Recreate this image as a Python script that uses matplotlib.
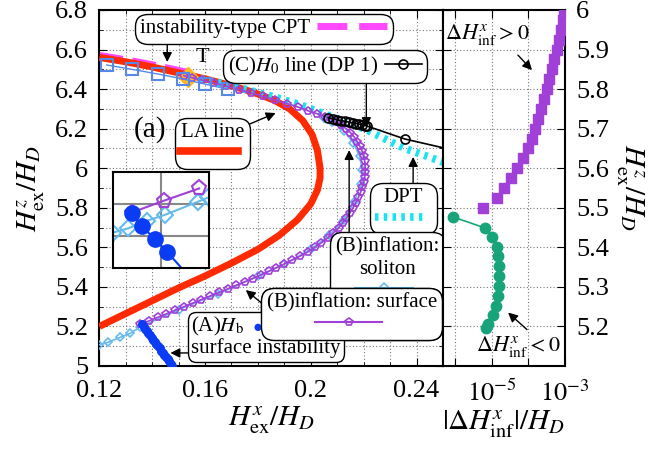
import matplotlib
matplotlib.use("Agg")
import matplotlib.pyplot as plt
from matplotlib.lines import Line2D
from matplotlib.offsetbox import AnchoredOffsetbox, HPacker, VPacker, TextArea
from matplotlib.ticker import MultipleLocator, FixedLocator, FuncFormatter

plt.rcParams["font.family"] = ["Liberation Serif", "DejaVu Serif"]
plt.rcParams["mathtext.fontset"] = "stix"

RED = "#ff2a00"
MAGENTA = "#ff48ff"
CYAN = "#14e4f4"
PURPLE = "#a040d8"
SKY = "#66bbee"
SQUARE = "#5588e8"
ORANGE = "#ffb820"
BLUE = "#0a3cf5"
GREEN = "#18a47a"

# LA line (upper branch, then lower branch)
la_x = [0.120, 0.130, 0.140, 0.150, 0.160, 0.170, 0.178, 0.186, 0.192, 0.197, 0.2005, 0.2025, 0.2035,
        0.2035, 0.2025, 0.2000, 0.1950, 0.1880, 0.1800, 0.1700, 0.1600, 0.1500, 0.1400, 0.1300, 0.1200]
la_y = [6.560, 6.538, 6.512, 6.482, 6.452, 6.417, 6.385, 6.345, 6.300, 6.240, 6.170, 6.090, 6.000,
        5.950, 5.890, 5.820, 5.740, 5.660, 5.590, 5.520, 5.455, 5.395, 5.330, 5.265, 5.200]

# instability-type CPT
cpt_x = [0.120, 0.130, 0.140, 0.150, 0.155]
cpt_y = [6.574, 6.552, 6.527, 6.498, 6.484]

# DPT
dpt_x = [0.155, 0.165, 0.175, 0.185, 0.195, 0.205, 0.213, 0.221, 0.2285, 0.2355, 0.243, 0.250]
dpt_y = [6.462, 6.432, 6.400, 6.365, 6.325, 6.275, 6.235, 6.195, 6.145, 6.100, 6.065, 6.030]

# (B) inflation: surface
surf_x = [0.1355, 0.1388, 0.1421, 0.1454, 0.1487, 0.1520, 0.1553, 0.1586, 0.1619, 0.1652, 0.1685,
          0.1718, 0.1751, 0.1780, 0.1810, 0.1840, 0.1870, 0.1900, 0.1930, 0.1960, 0.1990, 0.2015,
          0.2040, 0.2065, 0.2085, 0.2105, 0.2120, 0.2135, 0.2148, 0.2160, 0.2170, 0.2180, 0.2188,
          0.2195, 0.2200, 0.2204, 0.2206, 0.2206, 0.2204, 0.2200, 0.2194, 0.2186, 0.2176, 0.2164,
          0.2150, 0.2134, 0.2116, 0.2096, 0.2076, 0.2055, 0.2025, 0.1990, 0.1950, 0.1910, 0.1865,
          0.1820, 0.1775, 0.1728, 0.1680, 0.1635, 0.1590, 0.1550, 0.1520]
surf_y = [5.210, 5.228, 5.246, 5.264, 5.282, 5.300, 5.318, 5.336, 5.354, 5.372, 5.390,
          5.408, 5.426, 5.442, 5.460, 5.478, 5.497, 5.516, 5.536, 5.556, 5.578, 5.600,
          5.623, 5.648, 5.672, 5.697, 5.722, 5.748, 5.774, 5.800, 5.826, 5.852, 5.878,
          5.904, 5.930, 5.956, 5.982, 6.008, 6.034, 6.060, 6.086, 6.110, 6.134, 6.158,
          6.180, 6.200, 6.218, 6.234, 6.248, 6.260, 6.275, 6.290, 6.310, 6.327, 6.345,
          6.363, 6.380, 6.398, 6.415, 6.430, 6.445, 6.458, 6.468]

# (B) inflation: soliton
sol_x = [0.1200, 0.1234, 0.1279, 0.1317, 0.1355, 0.1500, 0.1650, 0.1800, 0.1900, 0.2000, 0.2070,
         0.2125, 0.2165, 0.2188, 0.2195, 0.2185, 0.2160, 0.2125, 0.2080, 0.2050]
sol_y = [5.108, 5.120, 5.145, 5.165, 5.198, 5.285, 5.365, 5.455, 5.515, 5.590, 5.660,
         5.740, 5.830, 5.920, 5.990, 6.060, 6.130, 6.190, 6.235, 6.255]

# squares along the top
sq_x = [0.1228, 0.1323, 0.1423, 0.1518, 0.1598, 0.1685]
sq_y = [6.522, 6.500, 6.476, 6.451, 6.426, 6.400]

# T point
t_x = [0.1537]
t_y = [6.463]

# (C) H0 line (DP 1)
h0_x = [0.2066, 0.2085, 0.2100, 0.2115, 0.2130, 0.2145, 0.2160, 0.2172, 0.2184, 0.2195, 0.2205,
        0.2213, 0.2355, 0.2560]
h0_y = [6.256, 6.250, 6.245, 6.241, 6.237, 6.233, 6.229, 6.226, 6.222, 6.219, 6.216,
        6.213, 6.148, 6.085]

# (A) H_b surface instability
hb_x = [0.1362, 0.1368, 0.1374, 0.1380, 0.1386, 0.1392, 0.1398, 0.1404, 0.1410, 0.1416,
        0.1422, 0.1428, 0.1434, 0.1440, 0.1446, 0.1452, 0.1458, 0.1464, 0.1470, 0.1476]
hb_y = [5.210, 5.199, 5.188, 5.177, 5.166, 5.155, 5.144, 5.133, 5.122, 5.111,
        5.100, 5.089, 5.078, 5.067, 5.056, 5.045, 5.034, 5.023, 5.012, 5.001]

# inset (zoom of the junction)
in_surf_x = [0.13439, 0.13506, 0.13579]
in_surf_y = [5.2073, 5.2110, 5.2148]
in_sol_x = [0.13401, 0.13432, 0.13470, 0.13508, 0.13577, 0.13598]
in_sol_y = [5.2011, 5.2024, 5.2047, 5.2066, 5.2107, 5.2120]
in_hb_x = [0.13439, 0.13460, 0.13488, 0.13512, 0.13543]
in_hb_y = [5.2071, 5.2031, 5.1990, 5.1952, 5.1900]

# right panel
pos_dx = [5.9e-6, 1.37e-5, 2.17e-5, 3.36e-5, 5.01e-5, 7.31e-5, 9.59e-5, 1.23e-4, 1.52e-4, 1.87e-4,
          2.21e-4, 2.67e-4, 3.16e-4, 3.74e-4, 4.32e-4, 5.01e-4, 5.93e-4, 6.85e-4, 7.78e-4, 8.63e-4, 9.6e-4]
pos_hz = [5.500, 5.525, 5.550, 5.575, 5.600, 5.625, 5.650, 5.675, 5.700, 5.725,
          5.750, 5.775, 5.800, 5.825, 5.850, 5.875, 5.900, 5.925, 5.950, 5.975, 6.000]
neg_dx = [9.0e-7, 6.6e-6, 1.0e-5, 1.37e-5, 1.52e-5, 1.58e-5, 1.62e-5, 1.58e-5, 1.45e-5,
          1.31e-5, 1.06e-5, 8.1e-6, 7.0e-6]
neg_hz = [5.4765, 5.449, 5.426, 5.402, 5.377, 5.352, 5.327, 5.301, 5.276,
          5.251, 5.230, 5.205, 5.197]
right_yticks = [5.2, 5.3, 5.4, 5.5, 5.6, 5.7, 5.8, 5.9, 6.0]
right_xticks = [1e-6, 1e-5, 1e-4, 1e-3]
right_xlabels = ["", r"$10^{-5}$", "", r"$10^{-3}$"]

fig = plt.figure(figsize=(6.53, 4.53), dpi=100)
ax = fig.add_axes([99.3 / 653, 87 / 453, 343.7 / 653, 356 / 453])
axr = fig.add_axes([443 / 653, 87 / 453, 122 / 653, 356 / 453])

FS_TICK = 19
FS_BOX = 15

# ---- main panel ----
ax.plot(cpt_x, cpt_y, color=MAGENTA, lw=4.0, dashes=(4.3, 1.7), zorder=2)
ax.plot(la_x, la_y, color=RED, lw=5.0, solid_capstyle="butt", zorder=3)
ax.plot(dpt_x, dpt_y, color=CYAN, lw=5.5, dashes=(0.45, 0.7), zorder=4)
ax.plot(sol_x, sol_y, color=SKY, lw=1.2, marker="D", ms=4.5, mfc="none", mew=1.2, zorder=5)
ax.plot(t_x, t_y, ls="none", marker="D", ms=10, color=ORANGE, zorder=5.5)
ax.plot(surf_x, surf_y, color=PURPLE, lw=1.2, marker="p", ms=6, mfc="none", mew=1.2, zorder=6)
ax.plot(sq_x, sq_y, color=SQUARE, lw=1.0, marker="s", ms=8, mfc="none", mew=1.5, zorder=6.5)
ax.plot(h0_x, h0_y, color="black", lw=1.2, marker="o", ms=6.5, mfc="none", mew=1.2, zorder=7)
ax.plot(hb_x, hb_y, color=BLUE, lw=1.2, marker="o", ms=5.5, ls="-", zorder=8)

ax.set_xlim(0.12, 0.25)
ax.set_ylim(5.0, 6.8)
ax.xaxis.set_major_locator(MultipleLocator(0.04))
ax.xaxis.set_minor_locator(MultipleLocator(0.01))
ax.yaxis.set_major_locator(MultipleLocator(0.2))
ax.yaxis.set_minor_locator(MultipleLocator(0.1))
fmt = FuncFormatter(lambda v, p: "%g" % round(v, 3))
ax.xaxis.set_major_formatter(fmt)
ax.yaxis.set_major_formatter(fmt)
ax.grid(True, which="both", ls=(0, (1, 2)), color="#777777", lw=0.8)
ax.tick_params(which="both", direction="in", top=True, right=True, labelsize=FS_TICK)
ax.tick_params(which="major", length=6)
ax.tick_params(which="minor", length=3)
ax.tick_params(axis="x", pad=10)
ax.tick_params(axis="y", pad=8)
for s in ax.spines.values():
    s.set_linewidth(1.5)
ax.set_xlabel(r"$H^x_\mathrm{ex}/H_D$", fontsize=21, labelpad=2)
ax.set_ylabel(r"$H^z_\mathrm{ex}/H_D$", fontsize=21, labelpad=6)

ax.text(0.159, 6.56, "T", fontsize=16, ha="center", va="center", zorder=9)
ax.text(0.148, 0.663, "(a)", transform=ax.transAxes, fontsize=21, ha="center", va="center", zorder=9)


def box(handles, labels, loc, anchor, title=None, markerfirst=True, handlelength=2.5):
    leg = ax.legend(handles, labels, loc=loc, bbox_to_anchor=anchor, bbox_transform=ax.transAxes,
                    title=title, title_fontsize=FS_BOX, fontsize=FS_BOX, frameon=True, fancybox=True,
                    framealpha=1, edgecolor="black", markerfirst=markerfirst, borderaxespad=0,
                    borderpad=0.25, handlelength=handlelength, handletextpad=0.3, labelspacing=0.1,
                    numpoints=1, alignment="center")
    leg.get_title().set_multialignment("center")
    fr = leg.get_frame()
    fr.set_linewidth(1.0)
    fr.set_boxstyle("round", pad=0, rounding_size=0.6)
    leg.set_zorder(10)
    ax.add_artist(leg)
    return leg


h_cpt = Line2D([], [], color=MAGENTA, lw=5, dashes=(4.3, 1.7))
h_la = Line2D([], [], color=RED, lw=5.5)
h_dpt = Line2D([], [], color=CYAN, lw=5.5, dashes=(0.45, 0.7))
h_sol = Line2D([], [], color=SKY, lw=1.5, marker="D", ms=5, mfc="none", mew=1.2)
h_surf = Line2D([], [], color=PURPLE, lw=1.5, marker="p", ms=6, mfc="none", mew=1.2)
h_h0 = Line2D([], [], color="black", lw=1.2, marker="o", ms=6.5, mfc="none", mew=1.2)

box([h_cpt], ["instability-type CPT"], "upper left", (0.104, 0.99), markerfirst=False, handlelength=3.4)
box([h_h0], [r"(C)$H_0$ line (DP 1)"], "upper left", (0.360, 0.888), markerfirst=False, handlelength=1.8)
box([h_la], [""], "upper left", (0.220, 0.697), title="LA line", handlelength=2.8)
box([h_dpt], [""], "upper left", (0.788, 0.514), title="DPT", handlelength=2.4)
box([h_sol], [""], "upper left", (0.671, 0.376), title="(B)inflation:\nsoliton", handlelength=2.8)
box([h_surf], [""], "upper right", (0.997, 0.219), title="(B)inflation: surface", handlelength=3.2)

hb_box = VPacker(children=[HPacker(children=[TextArea(r"(A)$H_\mathrm{b}$", textprops=dict(fontsize=FS_BOX)),
                                             TextArea("\u25CF", textprops=dict(fontsize=12, color=BLUE))],
                                   sep=6, align="baseline"),
                           TextArea("surface instability", textprops=dict(fontsize=FS_BOX))],
                 sep=0, align="left")
ab = AnchoredOffsetbox(loc="upper left", child=hb_box, pad=0.25, borderpad=0, frameon=True,
                       bbox_to_anchor=(0.258, 0.152), bbox_transform=ax.transAxes)
ab.patch.set_boxstyle("round", pad=0, rounding_size=0.6)
ab.patch.set_linewidth(1.0)
ab.set_zorder(10)
ax.add_artist(ab)

arrow = dict(arrowstyle="-|>", color="black", lw=1.0, mutation_scale=14, shrinkA=0, shrinkB=0)
for head, tail in [((0.1457, 6.537), (0.1457, 6.684)),
                   ((0.2210, 6.208), (0.2210, 6.471)),
                   ((0.1867, 6.279), (0.1761, 6.219)),
                   ((0.2387, 6.057), (0.2387, 5.925)),
                   ((0.2145, 6.092), (0.2145, 5.678)),
                   ((0.1754, 5.384), (0.1822, 5.309)),
                   ((0.1469, 5.066), (0.1538, 5.066))]:
    ax.annotate("", xy=head, xytext=tail, arrowprops=arrow, zorder=9)

# ---- inset ----
axi = fig.add_axes([112.7 / 653, (453 - 268.3) / 453, 96.6 / 653, 96.6 / 453], zorder=12)
axi.plot(in_sol_x, in_sol_y, color=SKY, lw=1.5, marker="D", ms=8, mfc="none", mew=1.5)
axi.plot(in_surf_x, in_surf_y, color=PURPLE, lw=1.5, marker="p", ms=11, mfc="none", mew=1.5)
axi.plot(in_hb_x, in_hb_y, color=BLUE, lw=1.5, marker="o", ms=11, markevery=[0, 1, 2, 3])
axi.set_xlim(0.134, 0.136)
axi.set_ylim(5.19, 5.22)
axi.xaxis.set_major_locator(FixedLocator([0.135]))
axi.yaxis.set_major_locator(FixedLocator([5.20, 5.21]))
axi.grid(True, color="#888888", lw=1.5)
axi.tick_params(length=0, labelbottom=False, labelleft=False)
for s in axi.spines.values():
    s.set_linewidth(1.5)

# ---- right panel ----
axr.plot(pos_dx, pos_hz, ls="none", marker="s", ms=7.5, color=PURPLE, zorder=5)
axr.plot(neg_dx, neg_hz, color=GREEN, lw=1.2, marker="o", ms=7.5, zorder=5)
axr.set_xscale("log")
axr.set_xlim(4.7e-7, 1e-3)
axr.set_ylim(5.1, 6.0)
axr.set_xticks(right_xticks)
axr.set_xticklabels(right_xlabels)
axr.xaxis.set_minor_locator(FixedLocator([]))
axr.set_yticks(right_yticks)
axr.yaxis.set_major_formatter(fmt)
axr.yaxis.tick_right()
axr.yaxis.set_label_position("right")
axr.grid(True, which="major", ls=(0, (1, 2)), color="#777777", lw=0.8)
axr.tick_params(which="both", direction="in", top=True, left=True, right=True, labelsize=FS_TICK, length=6)
axr.tick_params(axis="x", pad=10)
axr.tick_params(axis="y", pad=8)
for s in axr.spines.values():
    s.set_linewidth(1.5)
axr.set_xlabel(r"$|\Delta H^x_\mathrm{inf}|/H_D$", fontsize=21, labelpad=2)
axr.set_ylabel(r"$H^z_\mathrm{ex}/H_D$", fontsize=21, rotation=270, labelpad=26)
axr.text(0.016, 0.93, r"$\Delta H^x_\mathrm{inf}>0$", transform=axr.transAxes, fontsize=16, ha="left", va="center")
axr.text(0.96, 0.056, r"$\Delta H^x_\mathrm{inf}<0$", transform=axr.transAxes, fontsize=16, ha="right", va="center")
axr.annotate("", xy=(1.26e-4, 5.848), xytext=(5.2e-5, 5.886), arrowprops=arrow)
axr.annotate("", xy=(2.8e-5, 5.235), xytext=(9.2e-5, 5.192), arrowprops=arrow)

fig.savefig("out.png", dpi=100)
